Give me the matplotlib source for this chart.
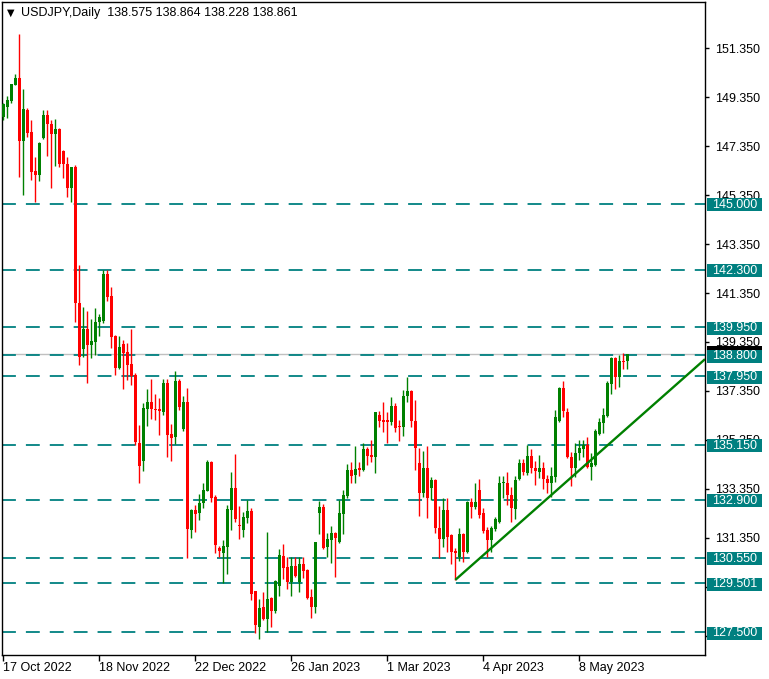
import matplotlib
matplotlib.use('Agg')
import matplotlib.pyplot as plt
import matplotlib.patches as mpatches
import matplotlib.transforms as mtransforms
import numpy as np

plt.rcParams['font.family'] = ['Liberation Sans', 'DejaVu Sans']
plt.rcParams['lines.scale_dashes'] = False

# daily USDJPY candles, 17 Oct 2022 .. 24 May 2023
opens = [148.53, 148.94, 149.19, 149.84, 150.13, 147.55, 148.82, 147.92, 146.33, 146.17,
         147.68, 148.62, 148.25, 147.84, 148.04, 147.15, 146.62, 145.64, 146.49, 140.94,
         139.07, 139.88, 139.23, 139.35, 140.17, 140.21, 142.13, 141.23, 139.59, 138.29,
         139.27, 138.94, 138.45, 138.00, 135.23, 134.49, 136.62, 136.90, 136.62, 136.62,
         136.49, 137.68, 135.60, 135.47, 137.76, 135.80, 136.90, 131.68, 132.49, 132.37,
         132.78, 133.27, 134.45, 133.02, 130.94, 130.74, 130.98, 132.49, 133.39, 131.88,
         131.68, 132.17, 132.45, 129.19, 127.72, 128.53, 128.04, 128.90, 128.37, 129.39,
         130.62, 130.17, 129.56, 130.21, 129.56, 130.29, 130.04, 128.94, 128.53, 132.37,
         132.61, 130.98, 131.27, 131.55, 131.19, 132.33, 133.07, 134.13, 133.92, 134.21,
         134.13, 134.98, 134.74, 134.66, 136.37, 136.17, 136.17, 136.09, 136.74, 135.92,
         135.88, 137.15, 137.35, 136.13, 134.41, 133.19, 134.21, 133.39, 133.72, 131.76,
         131.31, 132.49, 131.47, 130.82, 130.58, 131.51, 130.78, 132.82, 132.62, 133.31,
         132.37, 131.68, 131.27, 131.72, 132.00, 133.60, 133.60, 133.11, 132.53, 133.76,
         134.41, 134.00, 134.70, 134.21, 134.04, 134.21, 133.76, 133.60, 133.84, 136.13,
         137.47, 136.49, 134.66, 134.21, 134.82, 134.98, 135.15, 134.25, 134.33, 135.60,
         136.05, 136.33, 137.64, 138.70, 137.92, 138.58, 138.575]
highs = [149.11, 149.39, 149.90, 150.29, 151.92, 149.68, 148.90, 148.41, 146.90, 147.50,
         148.82, 148.82, 148.41, 148.45, 148.10, 147.20, 146.90, 146.50, 146.57, 142.49,
         140.78, 140.62, 140.29, 140.74, 140.49, 142.29, 142.29, 141.60, 139.63, 139.59,
         139.43, 139.31, 139.88, 138.08, 135.96, 136.86, 137.43, 137.84, 137.23, 137.07,
         137.84, 137.84, 136.00, 138.17, 137.84, 137.15, 137.47, 132.53, 132.70, 133.15,
         133.60, 134.53, 134.50, 133.11, 131.02, 131.27, 132.70, 134.04, 134.78, 132.66,
         132.41, 132.90, 132.57, 129.20, 128.86, 129.15, 131.60, 128.94, 129.62, 130.90,
         131.10, 130.58, 130.58, 130.58, 130.58, 130.58, 130.10, 129.27, 131.20, 132.86,
         132.74, 131.55, 131.84, 131.60, 132.90, 133.31, 134.37, 134.45, 135.11, 134.45,
         135.23, 135.06, 135.35, 136.50, 136.53, 136.90, 136.49, 137.11, 136.86, 136.17,
         137.39, 137.92, 137.40, 136.98, 135.02, 134.90, 135.11, 133.84, 133.76, 132.66,
         132.98, 132.98, 131.50, 130.94, 131.76, 131.55, 132.86, 132.98, 133.60, 133.76,
         132.57, 131.80, 131.84, 132.21, 133.88, 133.88, 134.04, 133.43, 133.88, 134.58,
         134.58, 135.15, 134.98, 134.49, 134.74, 134.45, 133.92, 134.25, 136.58, 137.51,
         137.76, 136.66, 134.86, 135.23, 135.35, 135.35, 135.47, 134.82, 135.80, 136.25,
         136.66, 137.76, 138.74, 138.74, 138.82, 138.90, 138.864]
lows = [148.41, 148.49, 149.11, 149.82, 146.09, 145.35, 147.70, 145.96, 145.06, 145.92,
        147.64, 146.94, 145.64, 146.53, 146.50, 146.04, 145.27, 145.06, 140.17, 138.41,
        138.74, 137.68, 138.70, 138.82, 139.59, 140.13, 141.02, 139.11, 138.00, 138.25,
        137.43, 137.80, 137.60, 135.15, 133.60, 134.09, 135.92, 136.21, 136.17, 135.56,
        136.37, 134.66, 134.49, 135.19, 136.57, 135.72, 130.53, 131.35, 131.60, 132.08,
        132.57, 133.25, 132.82, 130.74, 130.58, 129.51, 129.88, 131.68, 132.00, 131.31,
        131.39, 131.96, 128.82, 127.47, 127.23, 128.00, 127.51, 127.72, 128.29, 128.98,
        129.68, 129.27, 128.98, 129.76, 129.15, 129.72, 128.85, 128.09, 128.29, 131.51,
        130.90, 130.58, 130.33, 129.76, 131.15, 131.51, 133.00, 133.60, 133.60, 133.88,
        134.10, 134.33, 134.45, 134.00, 135.88, 135.68, 135.23, 135.96, 135.68, 135.31,
        135.51, 136.90, 135.88, 134.13, 132.25, 133.02, 132.17, 132.90, 131.55, 130.53,
        130.98, 130.78, 130.29, 129.64, 130.41, 130.37, 130.74, 132.17, 132.53, 132.17,
        131.55, 130.58, 130.78, 131.64, 131.98, 132.98, 132.70, 132.00, 132.12, 133.72,
        133.92, 133.92, 134.00, 133.51, 133.80, 133.35, 133.19, 133.02, 133.64, 136.09,
        136.29, 134.62, 133.47, 133.84, 134.53, 134.66, 134.20, 133.72, 134.29, 135.56,
        135.64, 136.29, 137.23, 137.43, 137.51, 138.25, 138.228]
closes = [149.07, 149.23, 149.88, 150.13, 147.55, 148.86, 147.88, 146.29, 146.17, 147.47,
          148.62, 148.25, 147.84, 148.04, 146.62, 146.62, 145.64, 146.49, 140.94, 138.74,
          139.88, 139.23, 139.39, 140.17, 140.37, 142.13, 141.19, 139.55, 138.29, 139.15,
          138.90, 138.41, 137.96, 135.27, 134.29, 136.66, 136.90, 136.62, 136.57, 136.53,
          137.68, 135.56, 135.43, 137.76, 136.70, 136.90, 131.72, 132.49, 132.33, 132.78,
          133.31, 134.45, 132.98, 131.07, 130.82, 131.02, 132.53, 133.39, 132.12, 131.84,
          132.21, 132.45, 129.07, 127.80, 128.49, 128.04, 128.86, 128.37, 129.60, 130.66,
          130.13, 129.56, 130.21, 129.80, 130.29, 130.00, 128.90, 128.53, 131.19, 132.61,
          130.94, 131.31, 131.55, 131.35, 132.37, 133.11, 134.13, 133.88, 134.17, 134.13,
          134.98, 134.70, 134.66, 136.49, 136.13, 136.09, 136.09, 136.74, 135.84, 135.88,
          137.15, 137.35, 136.13, 135.02, 133.19, 134.21, 132.98, 133.72, 131.76, 131.31,
          132.49, 131.39, 130.78, 130.74, 131.51, 130.78, 132.82, 132.62, 132.82, 132.29,
          131.64, 131.27, 131.76, 132.12, 133.60, 133.64, 133.11, 132.57, 133.72, 134.41,
          134.04, 134.70, 134.21, 134.09, 134.21, 133.76, 133.60, 133.88, 136.29, 137.47,
          136.53, 134.66, 134.21, 134.82, 135.02, 135.15, 134.25, 134.41, 135.72, 136.09,
          136.37, 137.68, 138.70, 137.92, 138.58, 138.53, 138.861]

date_ticks = [0, 24, 48, 72, 96, 120, 144]
date_labels = ['17 Oct 2022', '18 Nov 2022', '22 Dec 2022', '26 Jan 2023',
               '1 Mar 2023', '4 Apr 2023', '8 May 2023']
price_ticks = [127.35, 129.35, 131.35, 133.35, 135.35, 137.35, 139.35,
               141.35, 143.35, 145.35, 147.35, 149.35, 151.35]
levels = [145.000, 142.300, 139.950, 138.800, 137.950, 135.150,
          132.900, 130.550, 129.501, 127.500]
trend_bars = [113, 150]
trend_prices = [129.64, 134.98]

GREEN = '#008000'
RED = '#ff0000'
TEAL = '#008080'

fig = plt.figure(figsize=(7.69, 6.79), dpi=100)
ax = fig.add_axes([2 / 769, 24 / 679, 703 / 769, 653 / 679])
ax.set_xlim(-0.325, 175.425)
ax.set_ylim(126.574, 153.228)

x = np.arange(len(opens))
o = np.array(opens); h = np.array(highs); l = np.array(lows); c = np.array(closes)
up = c >= o
cols = np.where(up, GREEN, RED)
ax.vlines(x, l, h, colors=cols, lw=1, zorder=3)
body = np.maximum(np.abs(c - o), 0.045)
ax.bar(x, body, bottom=np.minimum(o, c), width=0.75, color=cols, zorder=4,
       linewidth=0)

for lv in levels:
    ax.axhline(lv, color=TEAL, lw=1.3, dashes=(10, 7.2), zorder=2)
ax.axhline(closes[-1], color='#c0c0c0', lw=1, zorder=1)

# trend line, extended to the right edge
slope = (trend_prices[1] - trend_prices[0]) / (trend_bars[1] - trend_bars[0])
x_end = ax.get_xlim()[1]
ax.plot([trend_bars[0], x_end], [trend_prices[0], trend_prices[0] + slope * (x_end - trend_bars[0])],
        color=GREEN, lw=1.7, zorder=5, solid_capstyle='butt')

for s in ax.spines.values():
    s.set_color('black')
    s.set_linewidth(1)

ax.yaxis.tick_right()
ax.set_yticks(price_ticks)
ax.set_yticklabels(['%.3f' % t for t in price_ticks])
ax.tick_params(axis='y', direction='out', length=3, pad=4, labelsize=9, width=1)
ax.set_xticks(date_ticks)
ax.set_xticklabels(date_labels)
ax.tick_params(axis='x', direction='out', length=4, pad=1, labelsize=9, width=1)
for lab in ax.get_xticklabels():
    lab.set_ha('left')

# right-side price boxes
trans = mtransforms.blended_transform_factory(ax.transAxes, ax.transData)
ppu = 653 / (153.228 - 126.574)
bx0 = (707 - 2) / 703
bw = 55 / 703
bh = 13 / ppu
# bid marker, mostly hidden behind the 138.800 box
ax.add_patch(mpatches.Rectangle((bx0, closes[-1]), bw, 7.8 / ppu, transform=trans,
                                facecolor='black', edgecolor='none', clip_on=False, zorder=6))
for lv in levels:
    ax.add_patch(mpatches.Rectangle((bx0, lv - bh / 2 - 0.04), bw, bh, transform=trans,
                                    facecolor=TEAL, edgecolor='none', clip_on=False, zorder=7))
    ax.text(bx0 + bw / 2, lv - 0.04, '%.3f' % lv, transform=trans, color='white',
            fontsize=9, ha='center', va='center', zorder=8, clip_on=False)

fig.text(7 / 769, 1 - 13 / 679, '\u25bc', fontsize=7, family=['DejaVu Sans'],
         ha='left', va='center')
fig.text(21 / 769, 1 - 13 / 679,
         'USDJPY,Daily  %.3f %.3f %.3f %.3f' % (opens[-1], highs[-1], lows[-1], closes[-1]),
         fontsize=9, ha='left', va='center')

fig.savefig('out.png', dpi=100, facecolor='white')
